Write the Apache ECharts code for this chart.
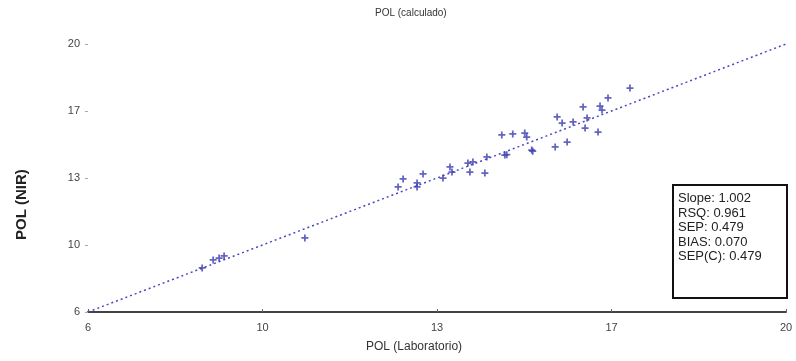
<!DOCTYPE html>
<html>
<head>
<meta charset="utf-8">
<script src="https://cdn.jsdelivr.net/npm/echarts@6/dist/echarts.min.js"></script>
<style>
  html, body { margin: 0; padding: 0; background: #fff; }
  #chart { width: 796px; height: 361px; }
</style>
</head>
<body>
<div id="chart"></div>
<script>
// POL laboratorio vs POL NIR
var polLab = [8.29, 8.51, 8.63, 8.73, 10.35,
  12.22, 12.32, 12.60, 12.60, 12.72, 13.12, 13.26, 13.30, 13.62, 13.72, 13.66, 13.96, 14.00,
  14.36, 14.40, 14.30, 14.52, 14.76, 14.80, 14.90, 14.92, 15.37, 15.61, 15.41, 15.51, 15.73,
  15.93, 16.01, 15.97, 16.23, 16.27, 16.31, 16.43, 16.87];
var polNir = [8.30, 8.72, 8.82, 8.93, 9.87,
  12.53, 12.95, 12.74, 12.53, 13.21, 13.00, 13.58, 13.31, 13.78, 13.84, 13.31, 13.26, 14.10,
  14.20, 14.22, 15.25, 15.30, 15.35, 15.14, 14.46, 14.40, 14.62, 14.88, 16.19, 15.87, 15.93,
  16.71, 16.14, 15.61, 15.40, 16.76, 16.55, 17.18, 17.70];
var refLine = [6, 20];
var tickLabels = ['6', '10', '13', '17', '20'];
var statLines = ['Slope: 1.002', 'RSQ: 0.961', 'SEP: 0.479', 'BIAS: 0.070', 'SEP(C): 0.479'];

var points = polLab.map(function (v, i) { return [v, polNir[i]]; });
var linePts = refLine.map(function (v) { return [v, v]; });

var plusPath = 'path://M3,0H5V3H8V5H5V8H3V5H0V3H3Z';
var font = 'Liberation Sans';

var myChart = echarts.init(document.getElementById('chart'));

var statText = statLines.map(function (t, i) {
  return {
    type: 'text',
    left: 678,
    top: 192 + i * 14.6,
    z: 11,
    style: { text: t, font: '13px "' + font + '"', fill: '#222' }
  };
});

myChart.setOption({
  animation: false,
  grid: { left: 88, right: 10, top: 44, bottom: 49 },
  xAxis: {
    type: 'value',
    min: 6,
    max: 20,
    interval: 3.5,
    splitLine: { show: false },
    axisLine: { lineStyle: { color: '#444', width: 2 } },
    axisTick: { length: 3, inside: true, lineStyle: { color: '#666' } },
    axisLabel: {
      margin: 10,
      color: '#444',
      fontSize: 11,
      fontFamily: font,
      formatter: function (v, i) { return tickLabels[i]; }
    }
  },
  yAxis: {
    type: 'value',
    min: 6,
    max: 20,
    interval: 3.5,
    splitLine: { show: false },
    axisLine: { show: false },
    axisTick: { length: 3, lineStyle: { color: '#aaa' } },
    axisLabel: {
      margin: 8,
      color: '#444',
      fontSize: 11,
      fontFamily: font,
      formatter: function (v, i) { return tickLabels[i]; }
    }
  },
  graphic: [
    {
      type: 'text', left: 375, top: 8,
      style: { text: 'POL (calculado)', font: '10px "' + font + '"', fill: '#333' }
    },
    {
      type: 'text', left: 366, top: 341,
      style: { text: 'POL (Laboratorio)', font: '12px "' + font + '"', fill: '#333' }
    },
    {
      type: 'text', x: 14, y: 240, rotation: Math.PI / 2,
      style: { text: 'POL (NIR)', font: 'bold 15px "' + font + '"', fill: '#222' }
    },
    {
      type: 'rect',
      shape: { x: 673, y: 185, width: 114, height: 113 },
      style: { fill: '#fff', stroke: '#111', lineWidth: 2 },
      z: 10
    }
  ].concat(statText),
  series: [
    {
      type: 'line',
      data: linePts,
      symbol: 'none',
      lineStyle: { color: '#4a4ac0', width: 1.5, type: [2, 3] },
      z: 1
    },
    {
      type: 'scatter',
      data: points,
      symbol: plusPath,
      symbolSize: 7,
      itemStyle: { color: '#3c3cb0', opacity: 0.8 },
      z: 2
    }
  ]
});
</script>
</body>
</html>
